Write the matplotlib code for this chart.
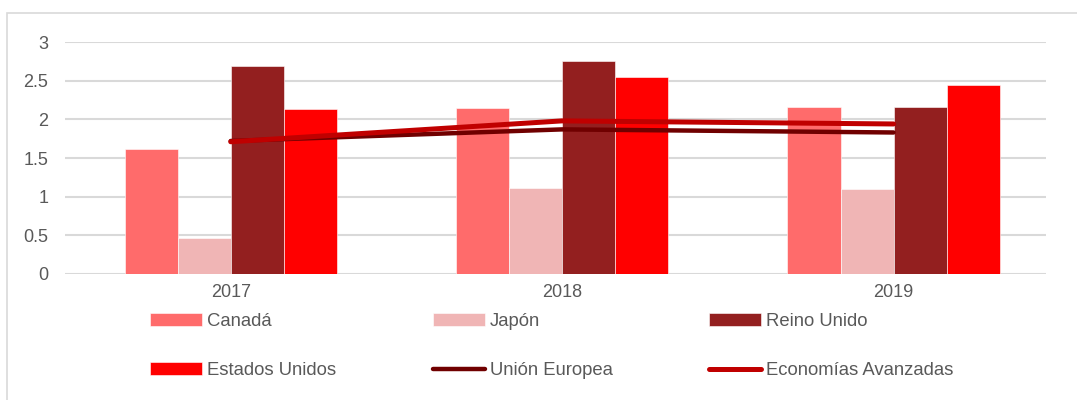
import matplotlib.pyplot as plt
import numpy as np
from matplotlib.patches import Rectangle

# datos del gráfico
anios = ['2017', '2018', '2019']
canada = [1.61, 2.15, 2.16]
japon = [0.47, 1.11, 1.10]
reino_unido = [2.69, 2.75, 2.16]
estados_unidos = [2.14, 2.55, 2.44]
union_europea = [1.72, 1.87, 1.83]
economias_avanzadas = [1.71, 1.98, 1.94]

plt.rcParams['font.family'] = ['Liberation Sans', 'DejaVu Sans']

fig = plt.figure(figsize=(10.77, 4.0), dpi=100)
W, H = 1077, 400
ax = fig.add_axes([65 / W, 1 - 274 / H, (1046 - 65) / W, (274 - 42) / H])

# marco exterior
fig.patches.append(Rectangle((7 / W, -0.1), 1.2, 1 - 13 / H + 0.1, transform=fig.transFigure,
                             fill=False, edgecolor='#D9D9D9', linewidth=1.2))

x = np.arange(len(anios))
ancho = 0.16
series = [
    (canada, 'Canadá', '#FF6B6B'),
    (japon, 'Japón', '#F0B5B5'),
    (reino_unido, 'Reino Unido', '#931F1F'),
    (estados_unidos, 'Estados Unidos', '#FF0000'),
]
barras = []
for i, (vals, nombre, color) in enumerate(series):
    b = ax.bar(x + (i - 1.5) * ancho, vals, ancho, color=color, label=nombre,
               edgecolor='white', linewidth=0.4, zorder=2)
    barras.append(b)

l1, = ax.plot(x, union_europea, color='#700000', linewidth=3.2, solid_capstyle='round',
              label='Unión Europea', zorder=3)
l2, = ax.plot(x, economias_avanzadas, color='#C00000', linewidth=3.6, solid_capstyle='round',
              label='Economías Avanzadas', zorder=4)

ax.set_xlim(-0.5, 2.46)
ax.set_ylim(0, 3)
ax.set_yticks([0, 0.5, 1, 1.5, 2, 2.5, 3])
ax.set_yticklabels(['0', '0.5', '1', '1.5', '2', '2.5', '3'])
ax.set_xticks(x)
ax.set_xticklabels(anios)
ax.tick_params(axis='both', length=0, labelsize=13, labelcolor='#595959')
ax.tick_params(axis='y', pad=12)
ax.tick_params(axis='x', pad=7)
ax.yaxis.grid(True, color='#D9D9D9', linewidth=1.5, zorder=0)
ax.set_axisbelow(True)
for s in ax.spines.values():
    s.set_visible(False)

# leyenda en tres columnas (orden por filas)
handles = [barras[0], barras[3], barras[1], l1, barras[2], l2]
labels = ['Canadá', 'Estados Unidos', 'Japón', 'Unión Europea', 'Reino Unido', 'Economías Avanzadas']
leg = fig.legend(handles, labels, ncol=3, loc='upper left', bbox_to_anchor=(150 / W, 1 - 313 / H),
                 frameon=False, fontsize=13.3, handlelength=2.8, handletextpad=0.27,
                 columnspacing=5.25, labelspacing=1.75, borderpad=0, borderaxespad=0)
for t in leg.get_texts():
    t.set_color('#595959')

fig.savefig('out.png', dpi=100)
